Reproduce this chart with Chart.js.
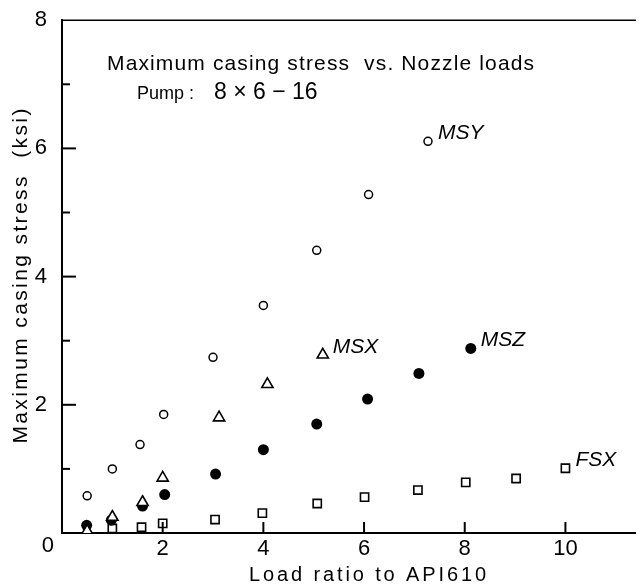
<!DOCTYPE html>
<html>
<head>
<meta charset="utf-8">
<script src="https://cdn.jsdelivr.net/npm/chart.js@4.4.0/dist/chart.umd.min.js"></script>
<style>
  html, body { margin: 0; padding: 0; background: #fff; }
  #wrap { width: 644px; height: 587px; }
</style>
</head>
<body>
<div id="wrap"><canvas id="stressChart" width="644" height="587"></canvas></div>
<script>
// values (x = load ratio, y = stress in ksi)
const msyX = [0.5, 1.0, 1.55, 2.02, 3.0, 4.0, 5.06, 6.09, 7.27];
const msyY = [0.58, 1.0, 1.38, 1.85, 2.74, 3.55, 4.41, 5.28, 6.11];
const msxX = [0.5, 1.0, 1.6, 2.0, 3.12, 4.08, 5.18];
const msxY = [0.03, 0.25, 0.48, 0.86, 1.80, 2.32, 2.78];
const mszX = [0.49, 0.98, 1.6, 2.04, 3.05, 4.0, 5.06, 6.07, 7.09, 8.12];
const mszY = [0.12, 0.2, 0.42, 0.6, 0.92, 1.3, 1.7, 2.09, 2.49, 2.88];
const fsxX = [1.0, 1.58, 2.0, 3.04, 3.98, 5.07, 6.01, 7.07, 8.02, 9.02, 10.0];
const fsxY = [0.07, 0.09, 0.15, 0.21, 0.31, 0.46, 0.56, 0.67, 0.79, 0.85, 1.01];

const seriesNames = ['MSY', 'MSX', 'MSZ', 'FSX'];
const xMajor = [2, 4, 6, 8, 10];
const yMajor = [2, 4, 6];
const yMinor = [1, 3, 5, 7];

const titleLine = 'Maximum casing stress  vs. Nozzle loads';
const pumpLabel = 'Pump :';
const pumpSize = '8 \u00d7 6 \u2212 16';
const xTitle = 'Load ratio to API610';
const yTitle = 'Maximum casing stress  (ksi)';

const FONT = '"Liberation Sans", Arial, sans-serif';

function pts(xs, ys) {
  return xs.map((v, i) => ({ x: v, y: ys[i] }));
}

// draw text stretched with letter spacing to a given width
function spaced(ctx, str, x, y, width) {
  ctx.letterSpacing = '0px';
  const w = ctx.measureText(str).width;
  const ls = (width - w) / (str.length - 1);
  ctx.letterSpacing = ls + 'px';
  ctx.textAlign = 'left';
  ctx.fillText(str, x, y);
  ctx.letterSpacing = '0px';
}

function tick(ctx, x1, y1, x2, y2) {
  ctx.beginPath();
  ctx.moveTo(x1, y1);
  ctx.lineTo(x2, y2);
  ctx.stroke();
}

const decorations = {
  id: 'decorations',
  afterDraw(chart) {
    const ctx = chart.ctx;
    const a = chart.chartArea;
    const x = chart.scales.x;
    const y = chart.scales.y;
    ctx.save();
    ctx.strokeStyle = '#000';
    ctx.fillStyle = '#000';

    // top frame line
    ctx.lineWidth = 1.5;
    tick(ctx, a.left, a.top, a.right, a.top);

    // inward tick marks
    ctx.lineWidth = 2;
    xMajor.forEach(v => {
      const px = x.getPixelForValue(v);
      tick(ctx, px, a.bottom, px, a.bottom - 11);
    });
    yMajor.forEach(v => {
      const py = y.getPixelForValue(v);
      tick(ctx, a.left, py, a.left + 14, py);
    });
    yMinor.forEach(v => {
      const py = y.getPixelForValue(v);
      tick(ctx, a.left, py, a.left + 8, py);
    });

    ctx.textBaseline = 'middle';

    // shared origin label
    ctx.font = '22px ' + FONT;
    ctx.textAlign = 'right';
    ctx.fillText('0', a.left - 8, y.getPixelForValue(0) + 13);

    // title block
    ctx.font = '21px ' + FONT;
    spaced(ctx, titleLine, 107, 64, 427);
    ctx.font = '18px ' + FONT;
    ctx.textAlign = 'left';
    ctx.fillText(pumpLabel, 137, 94);
    ctx.font = '23px ' + FONT;
    ctx.fillText(pumpSize, 214, 93);

    // series labels next to the last point of each series
    ctx.font = 'italic 21px ' + FONT;
    chart.data.datasets.forEach((ds, i) => {
      const last = ds.data[ds.data.length - 1];
      const px = x.getPixelForValue(last.x);
      const py = y.getPixelForValue(last.y);
      ctx.textAlign = 'left';
      ctx.fillText(seriesNames[i], px + 10, py - 8);
    });

    // axis titles
    ctx.font = '20px ' + FONT;
    spaced(ctx, xTitle, 249, 575, 237);
    ctx.translate(21, (a.top + a.bottom) / 2);
    ctx.rotate(-Math.PI / 2);
    ctx.font = '21px ' + FONT;
    spaced(ctx, yTitle, -167, 0, 335);
    ctx.restore();
  }
};

const ctx = document.getElementById('stressChart').getContext('2d');
const stressChart = new Chart(ctx, {
  type: 'scatter',
  data: {
    datasets: [
      {
        label: seriesNames[0],
        data: pts(msyX, msyY),
        pointStyle: 'circle',
        pointRadius: 4,
        backgroundColor: '#fff',
        borderColor: '#000',
        borderWidth: 1.5
      },
      {
        label: seriesNames[1],
        data: pts(msxX, msxY),
        pointStyle: 'triangle',
        pointRadius: 6.5,
        backgroundColor: '#fff',
        borderColor: '#000',
        borderWidth: 1.6
      },
      {
        label: seriesNames[2],
        data: pts(mszX, mszY),
        pointStyle: 'circle',
        pointRadius: 5.5,
        backgroundColor: '#000',
        borderColor: '#000',
        borderWidth: 0
      },
      {
        label: seriesNames[3],
        data: pts(fsxX, fsxY),
        pointStyle: 'rect',
        pointRadius: 5.8,
        backgroundColor: '#fff',
        borderColor: '#000',
        borderWidth: 1.6
      }
    ]
  },
  options: {
    responsive: false,
    animation: false,
    devicePixelRatio: 1,
    layout: { padding: { top: 17, right: 0, left: 0, bottom: 0 } },
    plugins: {
      legend: { display: false },
      tooltip: { enabled: false }
    },
    scales: {
      x: {
        type: 'linear',
        min: 0,
        max: 11.4,
        grid: { display: false },
        border: { display: true, color: '#000', width: 2 },
        ticks: {
          stepSize: 2,
          includeBounds: false,
          maxRotation: 0,
          padding: -5,
          color: '#000',
          font: { family: FONT, size: 22 },
          callback: v => (v === 0 ? '' : v)
        },
        afterFit: s => { s.height = 54; }
      },
      y: {
        type: 'linear',
        min: 0,
        max: 8,
        grid: { display: false },
        border: { display: true, color: '#000', width: 2 },
        ticks: {
          stepSize: 1,
          padding: 7,
          color: '#000',
          font: { family: FONT, size: 22 },
          callback: v => (v !== 0 && v % 2 === 0 ? v : '')
        },
        afterFit: s => { s.width = 62; }
      }
    }
  },
  plugins: [decorations]
});
</script>
</body>
</html>
